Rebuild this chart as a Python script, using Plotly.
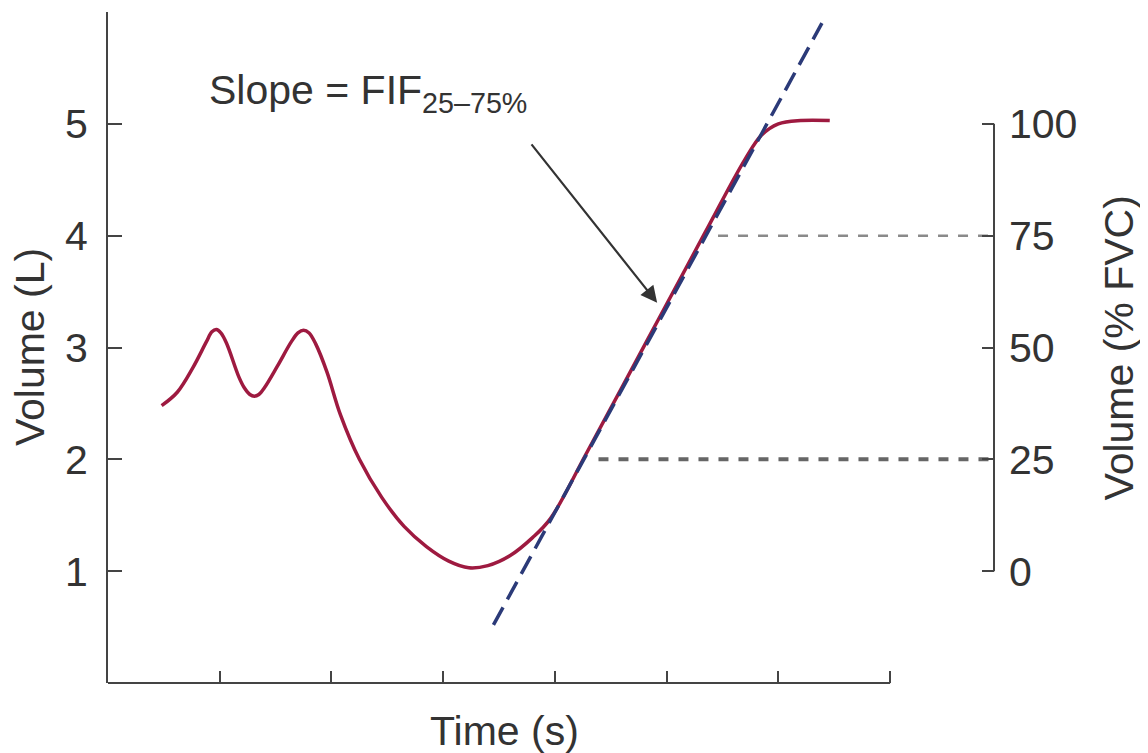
import plotly.graph_objects as go

# ---- data (time in arbitrary units, volume in litres) ----
curve_t = [0.48, 0.62, 0.76, 0.88, 0.93, 0.97, 1.01, 1.06, 1.17, 1.22, 1.27, 1.31,
           1.35, 1.40, 1.52, 1.64, 1.70, 1.75, 1.80, 1.86, 1.96, 2.08, 2.25, 2.45,
           2.65, 2.85, 3.05, 3.23, 3.40, 3.60, 3.80, 3.96, 4.28, 4.84, 5.34, 5.70,
           5.85, 6.00, 6.20, 6.46]
curve_v = [2.48, 2.60, 2.82, 3.05, 3.14, 3.16, 3.13, 3.04, 2.74, 2.64, 2.58, 2.565,
           2.58, 2.64, 2.84, 3.05, 3.13, 3.155, 3.13, 3.03, 2.78, 2.40, 2.00, 1.66,
           1.40, 1.22, 1.09, 1.03, 1.05, 1.14, 1.30, 1.47, 2.05, 3.09, 4.02, 4.68,
           4.90, 5.00, 5.03, 5.03]

tangent_t = [3.45, 6.39]
tangent_v = [0.52, 5.90]

pct_levels = [25, 75]
pct_start_t = [4.39, 5.46]

y_ticks = [1, 2, 3, 4, 5, 6]
y_ticktext = ["1", "2", "3", "4", "5", ""]
x_ticks = [1, 2, 3, 4, 5, 6, 7]
pct_ticks = [0, 25, 50, 75, 100]

X_MAX = 7.93
FONT = "Liberation Sans, Arial, sans-serif"
FS = 41
TXT = "#333333"
AX = "#444444"

fig = go.Figure()

# horizontal dashed reference lines at 25% and 75% FVC
fig.add_trace(go.Scatter(x=[pct_start_t[0], X_MAX], y=[pct_levels[0]] * 2, yaxis="y2",
                         mode="lines", line=dict(color="#666666", width=4, dash="10px,10px"),
                         showlegend=False, hoverinfo="skip"))
fig.add_trace(go.Scatter(x=[pct_start_t[1], X_MAX], y=[pct_levels[1]] * 2, yaxis="y2",
                         mode="lines", line=dict(color="#8a8a8a", width=2.5, dash="10px,10px"),
                         showlegend=False, hoverinfo="skip"))

# volume-time curve
fig.add_trace(go.Scatter(x=curve_t, y=curve_v, mode="lines",
                         line=dict(color="#9e1a40", width=3.5, shape="spline", smoothing=1.0),
                         showlegend=False))

# tangent (slope)
fig.add_trace(go.Scatter(x=tangent_t, y=tangent_v, mode="lines",
                         line=dict(color="#2b3a78", width=3.5, dash="20px,9px"),
                         showlegend=False))

fig.update_layout(
    width=1140, height=745, autosize=False,
    margin=dict(l=100, r=154, t=4, b=70),
    paper_bgcolor="white", plot_bgcolor="white",
    font=dict(family=FONT, size=FS, color=TXT),
    xaxis=dict(range=[0, X_MAX], domain=[0, 1], showline=False, showgrid=False, zeroline=False,
               tickmode="array", tickvals=x_ticks, ticks="inside", ticklen=12, tickwidth=2,
               tickcolor=AX, showticklabels=False),
    yaxis=dict(range=[0, 6], showline=True, linecolor=AX, linewidth=2, showgrid=False,
               zeroline=False, tickmode="array", tickvals=y_ticks, ticktext=y_ticktext,
               ticks="inside", ticklen=14, tickwidth=2, tickcolor=AX,
               tickfont=dict(size=FS, color=TXT), ticklabelstandoff=10),
    yaxis2=dict(range=[-25, 125], overlaying="y", side="right", showline=False, showgrid=False,
                zeroline=False, tickmode="array", tickvals=pct_ticks, ticks="inside",
                ticklen=12, tickwidth=2, tickcolor=AX, tickfont=dict(size=FS, color=TXT),
                ticklabelstandoff=14),
    shapes=[
        dict(type="line", xref="x", yref="paper", x0=0, x1=7, y0=0, y1=0,
             line=dict(color=AX, width=2)),
        dict(type="line", xref="paper", yref="y2", x0=1, x1=1, y0=0, y1=100,
             line=dict(color=AX, width=2)),
    ],
    annotations=[
        dict(text="Slope = FIF<sub>25–75%</sub>", x=0.886, y=5.28, xref="x", yref="y",
             xanchor="left", yanchor="middle", showarrow=False,
             font=dict(size=FS, color=TXT)),
        dict(text="", x=4.915, y=3.40, ax=3.78, ay=4.83, xref="x", yref="y",
             axref="x", ayref="y", showarrow=True, arrowhead=2, arrowsize=1.5,
             arrowwidth=2.2, arrowcolor="#333333"),
        dict(text="Time (s)", x=3.55, y=0, xref="x", yref="paper", yshift=-48,
             xanchor="center", yanchor="middle", showarrow=False, font=dict(size=FS, color=TXT)),
        dict(text="Volume (L)", x=-0.0885, y=0.5, xref="paper", yref="paper", textangle=-90,
             xanchor="center", yanchor="middle", showarrow=False, font=dict(size=FS, color=TXT)),
        dict(text="Volume (% FVC)", x=1.141, y=0.5, xref="paper", yref="paper", textangle=-90,
             xanchor="center", yanchor="middle", showarrow=False, font=dict(size=FS, color=TXT)),
    ],
)

fig.write_html("out.html")
